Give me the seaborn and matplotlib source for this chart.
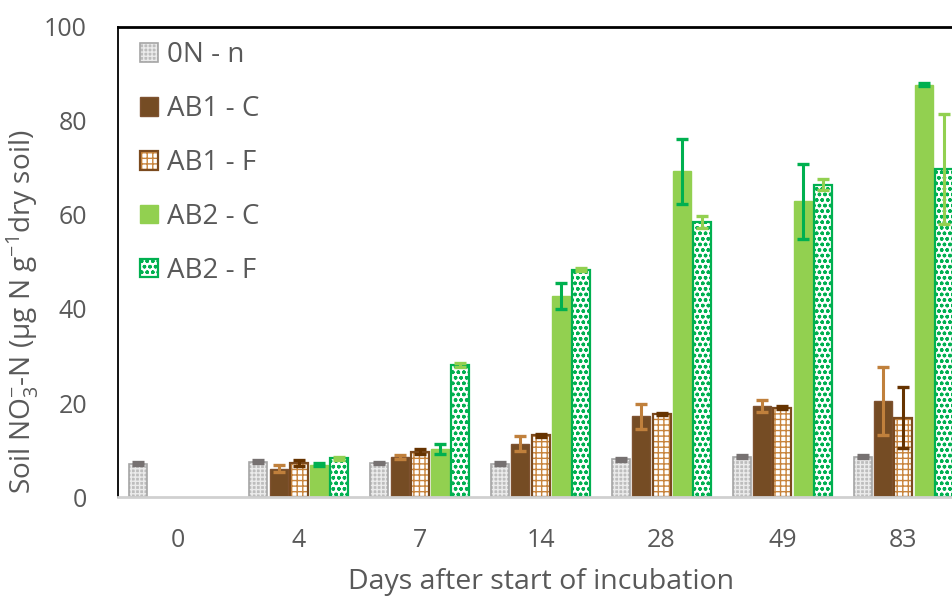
import numpy as np
import pandas as pd
import matplotlib
matplotlib.use("Agg")
import matplotlib.pyplot as plt
import seaborn as sns
from matplotlib.patches import Patch, Rectangle
from matplotlib.legend_handler import HandlerTuple

# ---------------- data ----------------
days = ["0", "4", "7", "14", "28", "49", "83"]
treatments = ["0N - n", "AB1 - C", "AB1 - F", "AB2 - C", "AB2 - F"]

n0_mean = [7.1, 7.6, 7.3, 7.1, 8.1, 8.6, 8.6]
n0_err = [0.3, 0.3, 0.3, 0.3, 0.3, 0.3, 0.3]
ab1c_mean = [np.nan, 6.1, 8.5, 11.4, 17.2, 19.4, 20.5]
ab1c_err = [np.nan, 0.7, 0.4, 1.6, 2.7, 1.3, 7.2]
ab1f_mean = [np.nan, 7.3, 9.7, 13.2, 17.7, 19.0, 16.9]
ab1f_err = [np.nan, 0.6, 0.5, 0.3, 0.3, 0.3, 6.5]
ab2c_mean = [np.nan, 6.9, 10.3, 42.8, 69.3, 62.9, 87.6]
ab2c_err = [np.nan, 0.3, 1.0, 2.8, 6.9, 8.0, 0.3]
ab2f_mean = [np.nan, 8.3, 28.1, 48.3, 58.4, 66.4, 69.8]
ab2f_err = [np.nan, 0.3, 0.5, 0.3, 1.3, 1.2, 11.7]

means = [n0_mean, ab1c_mean, ab1f_mean, ab2c_mean, ab2f_mean]
errs = [n0_err, ab1c_err, ab1f_err, ab2c_err, ab2f_err]

df = pd.DataFrame(
    [(d, t, means[i][j]) for i, t in enumerate(treatments) for j, d in enumerate(days)],
    columns=["Day", "Treatment", "Value"],
)

# ---------------- styles ----------------
styles = {
    "0N - n": dict(face="#BDBDBD", hatch="++++", hcol="#EBEBEB", edge="#A6A6A6", lw=1.2, ecol="#767171"),
    "AB1 - C": dict(face="#754C24", hatch=None, hcol=None, edge="#7F5230", lw=1.0, ecol="#C0803C"),
    "AB1 - F": dict(face="white", hatch="+++", hcol="#C8843C", edge="#7B4A1E", lw=1.6, ecol="#663300"),
    "AB2 - C": dict(face="#92D050", hatch=None, hcol=None, edge="#92D050", lw=1.0, ecol="#00B050"),
    "AB2 - F": dict(face="white", hatch="ooo", hcol="#00B050", edge="#00B050", lw=1.6, ecol="#92D050"),
}

sns.set_theme(style="white")
plt.rcParams["font.family"] = ["Open Sans", "DejaVu Sans"]
plt.rcParams["mathtext.fontset"] = "custom"
plt.rcParams["mathtext.rm"] = "Open Sans"
plt.rcParams["mathtext.it"] = "Open Sans:italic"
plt.rcParams["mathtext.bf"] = "Open Sans:bold"
plt.rcParams["mathtext.default"] = "rm"
plt.rcParams["hatch.linewidth"] = 1.0

txt = "#595959"

fig = plt.figure(figsize=(9.52, 5.98), dpi=100)
ax = fig.add_axes([117.5 / 952, 100.7 / 598, 846.3 / 952, 470.8 / 598])

sns.barplot(
    data=df, x="Day", y="Value", hue="Treatment", order=days, hue_order=treatments,
    palette=[styles[t]["face"] for t in treatments], saturation=1,
    width=0.835, gap=0.11, errorbar=None, legend=False, ax=ax,
)

for i, t in enumerate(treatments):
    st = styles[t]
    cont = ax.containers[i]
    xs, ys, es = [], [], []
    for bar in cont:
        h = bar.get_height()
        if not np.isfinite(h) or h <= 0:
            continue
        xc = bar.get_x() + bar.get_width() / 2
        j = int(round(xc))
        bar.set_zorder(2)
        if st["hatch"]:
            bar.set_facecolor(st["face"])
            bar.set_edgecolor(st["hcol"])
            bar.set_hatch(st["hatch"])
            bar.set_linewidth(0)
            ax.add_patch(Rectangle((bar.get_x(), 0), bar.get_width(), h, fill=False,
                                   edgecolor=st["edge"], lw=st["lw"], zorder=2.5))
        else:
            bar.set_edgecolor(st["edge"])
            bar.set_linewidth(st["lw"])
        xs.append(xc)
        ys.append(means[i][j])
        es.append(errs[i][j])
    ax.errorbar(xs, ys, yerr=es, fmt="none", ecolor=st["ecol"], elinewidth=2.2,
                capsize=4.3, capthick=2.4, zorder=3)

ax.set_xlim(-0.5, 6.5)
ax.set_ylim(0, 100)
ax.set_yticks([0, 20, 40, 60, 80, 100])
ax.tick_params(axis="both", length=0, labelsize=18, labelcolor=txt)
ax.tick_params(axis="y", pad=22)
ax.tick_params(axis="x", pad=22)

for s in ["left", "top"]:
    ax.spines[s].set_color("black")
ax.spines["left"].set_linewidth(1.3)
ax.spines["top"].set_linewidth(2.0)
ax.spines["bottom"].set_color("#D0D0D0")
ax.spines["bottom"].set_linewidth(2.0)
ax.spines["right"].set_visible(False)

ax.set_xlabel("Days after start of incubation", fontsize=20.5, color=txt)
ax.xaxis.set_label_coords(0.5, -0.151)
ax.set_ylabel(r"Soil NO$_3^{-}$-N (µg N g$^{-1}$dry soil)", fontsize=20.2, color=txt)
ax.yaxis.set_label_coords(-0.0916, 0.394)

handles = []
for t in treatments:
    st = styles[t]
    if st["hatch"]:
        h1 = Patch(facecolor=st["face"], edgecolor=st["hcol"], hatch=st["hatch"], lw=0)
        h2 = Patch(fill=False, edgecolor=st["edge"], lw=st["lw"])
        handles.append((h1, h2))
    else:
        handles.append(Patch(facecolor=st["face"], edgecolor=st["edge"], lw=st["lw"]))

leg = ax.legend(
    handles, treatments, handler_map={tuple: HandlerTuple(ndivide=1, pad=0)},
    loc="upper left", bbox_to_anchor=(0.026, 0.9685), frameon=False, fontsize=20,
    labelcolor=txt, handlelength=0.65, handleheight=0.65, handletextpad=0.33,
    labelspacing=0.93, borderpad=0, borderaxespad=0,
)

fig.savefig("out.png", dpi=100)
